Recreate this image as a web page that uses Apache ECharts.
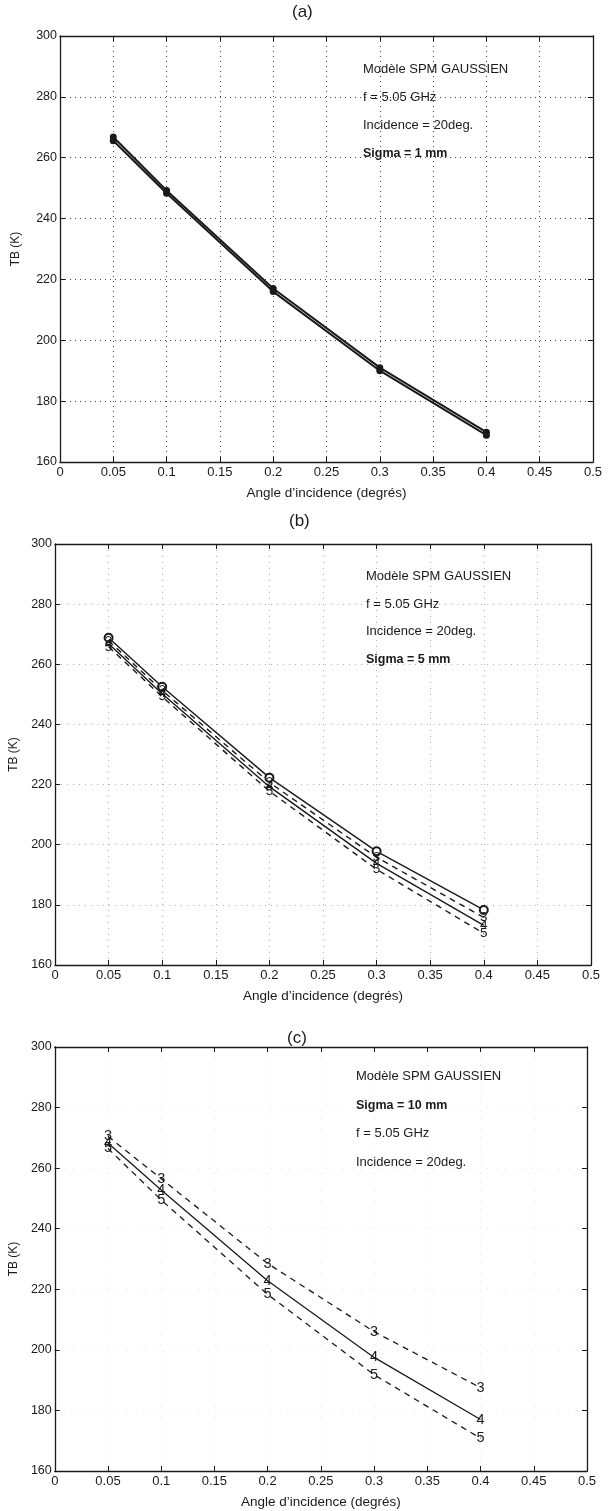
<!DOCTYPE html>
<html><head><meta charset="utf-8">
<script src="https://cdn.jsdelivr.net/npm/echarts@6/dist/echarts.min.js"></script>
<style>html,body{margin:0;padding:0;background:#fff}#c{width:608px;height:1511px}</style>
</head><body><div id="c"></div>
<script>
// ---- data ----
const angles = [0.05, 0.1, 0.2, 0.3, 0.4];
// panel (a) sigma = 1 mm (overlapping curves)
const a1 = [266.8, 249.2, 217.0, 191.0, 169.8];
const a2 = [265.6, 248.3, 216.0, 190.0, 168.8];
// panel (b) sigma = 5 mm
const b2 = [268.8, 252.5, 222.3, 197.8, 178.3];
const b3 = [267.8, 251.3, 220.7, 195.8, 175.8];
const b4 = [266.8, 250.2, 219.3, 193.8, 173.2];
const b5 = [265.8, 249.2, 217.8, 191.8, 170.5];
// panel (c) sigma = 10 mm
const c3 = [270.5, 256.5, 228.5, 206.0, 187.5];
const c4 = [268.3, 252.8, 222.8, 197.5, 177.0];
const c5 = [266.5, 249.5, 218.3, 191.8, 170.8];
// axes
const xMin = 0, xMax = 0.5, xStep = 0.05;
const yMin = 160, yMax = 300, yStep = 20;
const panelTitles = ['(a)', '(b)', '(c)'];
const xName = 'Angle d\u2019incidence (degrés)';
const yName = 'TB (K)';
const notesA = ['Modèle SPM GAUSSIEN', 'f = 5.05 GHz', 'Incidence = 20deg.', 'Sigma = 1 mm'];
const notesB = ['Modèle SPM GAUSSIEN', 'f = 5.05 GHz', 'Incidence = 20deg.', 'Sigma = 5 mm'];
const notesC = ['Modèle SPM GAUSSIEN', 'Sigma = 10 mm', 'f = 5.05 GHz', 'Incidence = 20deg.'];

const FONT = '"Liberation Sans", Arial, sans-serif';
const INK = '#1a1a1a';
const pairs = arr => arr.map((v, i) => [angles[i], v]);

const grids = [
  {left: 60, width: 533, top: 36, height: 426},
  {left: 54, width: 537, top: 544, height: 421},
  {left: 53, width: 534, top: 1047, height: 424}
];
const gridStyles = [
  {color: '#333', type: [1, 4], opacity: 0.9},
  {color: '#666', type: [1, 5], opacity: 0.5},
  {color: '#999', type: [1, 8], opacity: 0.3}
];
const nameGapsY = [38, 35, 34];

const xAxis = [], yAxis = [];
grids.forEach((g, i) => {
  xAxis.push({
    gridIndex: i, type: 'value', min: xMin, max: xMax, interval: xStep, position: 'bottom',
    name: xName, nameLocation: 'middle', nameGap: 24,
    nameTextStyle: {fontFamily: FONT, fontSize: 13.5, color: INK},
    axisLine: {show: true, onZero: false, lineStyle: {color: INK, width: 1.3}},
    axisTick: {show: true, inside: true, length: 5, lineStyle: {color: INK}},
    axisLabel: {fontFamily: FONT, fontSize: 13, color: INK, margin: 4,
      formatter: v => String(Math.round(v * 100) / 100)},
    splitLine: {show: true, lineStyle: {color: gridStyles[i].color, type: gridStyles[i].type, width: 1, opacity: gridStyles[i].opacity}}
  });
  xAxis.push({
    gridIndex: i, type: 'value', min: xMin, max: xMax, interval: xStep, position: 'top',
    axisLine: {show: true, onZero: false, lineStyle: {color: INK, width: 1.3}},
    axisTick: {show: true, inside: true, length: 5, lineStyle: {color: INK}},
    axisLabel: {show: false}, splitLine: {show: false}
  });
  yAxis.push({
    gridIndex: i, type: 'value', min: yMin, max: yMax, interval: yStep, position: 'left',
    name: yName, nameLocation: 'middle', nameGap: nameGapsY[i], nameRotate: 90,
    nameTextStyle: {fontFamily: FONT, fontSize: 12, color: INK},
    axisLine: {show: true, onZero: false, lineStyle: {color: INK, width: 1.3}},
    axisTick: {show: true, inside: true, length: 5, lineStyle: {color: INK}},
    axisLabel: {fontFamily: FONT, fontSize: 12.5, color: INK, margin: 3},
    splitLine: {show: true, lineStyle: {color: gridStyles[i].color, type: gridStyles[i].type, width: 1, opacity: gridStyles[i].opacity}}
  });
  yAxis.push({
    gridIndex: i, type: 'value', min: yMin, max: yMax, interval: yStep, position: 'right',
    axisLine: {show: true, onZero: false, lineStyle: {color: INK, width: 1.3}},
    axisTick: {show: true, inside: true, length: 5, lineStyle: {color: INK}},
    axisLabel: {show: false}, splitLine: {show: false}
  });
});

function numbered(name, data, gi, dashed, opts) {
  opts = opts || {};
  return {
    type: 'line', name: name, data: pairs(data),
    xAxisIndex: gi * 2, yAxisIndex: gi * 2,
    symbol: opts.symbol || 'circle', symbolSize: opts.symbolSize || 0.1,
    itemStyle: {color: INK, borderColor: INK, borderWidth: opts.borderWidth || 0},
    lineStyle: {color: INK, width: opts.width || 1.4, type: dashed ? [6, 5] : 'solid'},
    label: {show: opts.label !== false, position: 'inside', formatter: name,
      fontFamily: FONT, fontSize: opts.fontSize || 13.5, color: INK},
    animation: false, z: 3
  };
}

const series = [
  {type: 'line', data: pairs(a1), xAxisIndex: 0, yAxisIndex: 0, symbol: 'circle', symbolSize: 7,
   itemStyle: {color: INK}, lineStyle: {color: INK, width: 2}, animation: false},
  {type: 'line', data: pairs(a2), xAxisIndex: 0, yAxisIndex: 0, symbol: 'circle', symbolSize: 7,
   itemStyle: {color: INK}, lineStyle: {color: INK, width: 2}, animation: false},
  numbered('2', b2, 1, false, {symbol: 'emptyCircle', symbolSize: 8, borderWidth: 1.5, label: false}),
  numbered('3', b3, 1, true),
  numbered('4', b4, 1, false),
  numbered('5', b5, 1, true),
  numbered('3', c3, 2, true, {width: 1.3, fontSize: 14.5}),
  numbered('4', c4, 2, false, {width: 1.3, fontSize: 14.5}),
  numbered('5', c5, 2, true, {width: 1.3, fontSize: 14.5})
];

const graphic = [];
const titleY = [14, 523, 1040];
const titleX = [303, 300, 298];
panelTitles.forEach((t, i) => graphic.push({type: 'text', left: titleX[i] - 11, top: titleY[i] - 10,
  style: {text: t, font: '17px ' + FONT, fill: INK}}));
function notes(list, x, ys, boldIdx) {
  list.forEach((t, i) => graphic.push({type: 'text', left: x, top: ys[i] - 8,
    style: {text: t, font: (i === boldIdx ? 'bold 12.5px ' : '13px ') + FONT, fill: INK}}));
}
notes(notesA, 363, [71, 99, 127, 155], 3);
notes(notesB, 366, [578, 606, 633, 661], 3);
notes(notesC, 356, [1078, 1107, 1135, 1164], 1);

const chart = echarts.init(document.getElementById('c'), null, {renderer: 'canvas'});
chart.setOption({
  backgroundColor: '#fff', animation: false,
  grid: grids.map(g => Object.assign({containLabel: false}, g)),
  xAxis: xAxis, yAxis: yAxis, series: series, graphic: graphic
});
</script></body></html>
